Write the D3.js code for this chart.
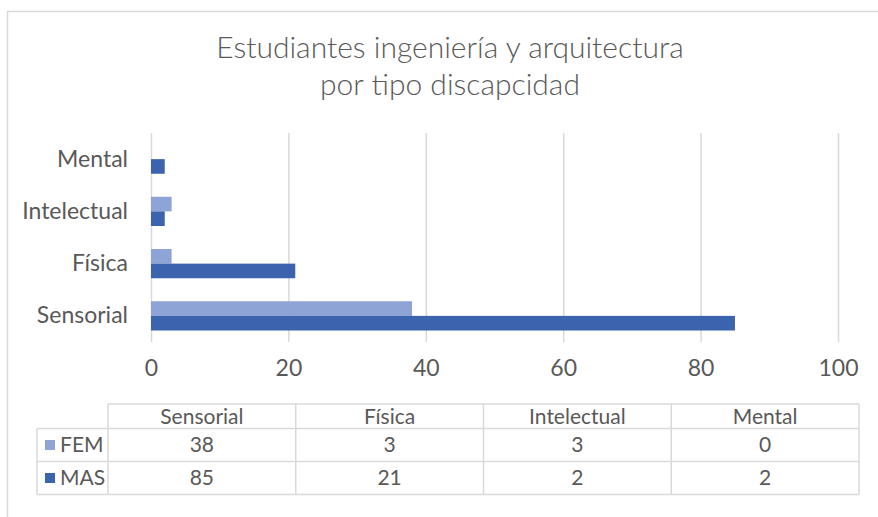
<!DOCTYPE html>
<html>
<head>
<meta charset="utf-8">
<script src="https://cdn.jsdelivr.net/npm/d3@7"></script>
<style>
  html, body { margin: 0; padding: 0; background: #fff; }
  svg text { font-family: Lato, "Open Sans", sans-serif; fill: #595959; }
</style>
</head>
<body>
<div id="chart"></div>
<script>
// data
const categories = ["Sensorial", "Física", "Intelectual", "Mental"];
const seriesNames = ["FEM", "MAS"];
const femValues = [38, 3, 3, 0];
const masValues = [85, 21, 2, 2];
const xTicks = [0, 20, 40, 60, 80, 100];
const titleLines = ["Estudiantes ingeniería y arquitectura", "por tipo discapcidad"];

const colors = { FEM: "#8fa4d6", MAS: "#3c63ad" };
const gridColor = "#d9d9d9";

const width = 878, height = 517;
const plot = { left: 151, right: 838, top: 133, bottom: 342 };

const svg = d3.select("#chart").append("svg")
    .attr("width", width)
    .attr("height", height);

// chart frame (runs off the right and bottom of the picture)
svg.append("rect")
    .attr("x", 7.5).attr("y", 11.5)
    .attr("width", 900).attr("height", 540)
    .style("fill", "none")
    .style("stroke", gridColor)
    .style("stroke-width", 1.5);

// title
svg.append("g").selectAll("text")
    .data(titleLines)
    .enter().append("text")
    .attr("x", 450)
    .attr("y", (d, i) => 58 + i * 37)
    .attr("text-anchor", "middle")
    .style("font-size", "30px")
    .style("font-weight", 300)
    .text(d => d);

// scales
const x = d3.scaleLinear().domain([0, 100]).range([plot.left, plot.right]);
const y0 = d3.scaleBand()
    .domain(categories.slice().reverse())
    .range([plot.top, plot.bottom])
    .paddingInner(0.44)
    .paddingOuter(0.22);
const y1 = d3.scaleBand().domain(seriesNames).range([0, y0.bandwidth()]);

// gridlines + tick labels
const xAxis = d3.axisBottom(x)
    .tickValues(xTicks)
    .tickSize(-(plot.bottom - plot.top))
    .tickPadding(18)
    .tickFormat(d3.format("d"));

const gx = svg.append("g")
    .attr("transform", `translate(0,${plot.bottom})`)
    .call(xAxis);
gx.select(".domain").remove();
gx.selectAll(".tick line")
    .style("stroke", gridColor)
    .style("stroke-width", 1.5);
gx.selectAll(".tick text")
    .style("font-size", "23px")
    .style("fill", "#595959");

// category labels
const yAxis = d3.axisLeft(y0).tickSize(0).tickPadding(0);
const gy = svg.append("g")
    .attr("transform", "translate(128,0)")
    .call(yAxis);
gy.select(".domain").remove();
gy.selectAll(".tick text")
    .style("font-size", "23px")
    .style("fill", "#595959");

// bars
const rows = categories.map((c, i) => ({ cat: c, FEM: femValues[i], MAS: masValues[i] }));

const groups = svg.append("g").selectAll("g")
    .data(rows)
    .enter().append("g")
    .attr("transform", d => `translate(0,${y0(d.cat)})`);

groups.selectAll("rect")
    .data(d => seriesNames.map(s => ({ key: s, value: d[s] })))
    .enter().append("rect")
    .attr("x", x(0))
    .attr("y", d => y1(d.key))
    .attr("width", d => x(d.value) - x(0))
    .attr("height", y1.bandwidth())
    .style("fill", d => colors[d.key]);

// data table
const table = { legendLeft: 37, left: 108, right: 859, headTop: 404, rowTops: [428.5, 461.5], bottom: 494.5 };
const col = d3.scaleBand().domain(categories).range([table.left, table.right]);
const tg = svg.append("g");

const hLines = [
    { y: table.headTop, x1: table.left },
    { y: table.rowTops[0], x1: table.legendLeft },
    { y: table.rowTops[1], x1: table.legendLeft },
    { y: table.bottom, x1: table.legendLeft }
];
tg.selectAll(".hline")
    .data(hLines)
    .enter().append("line")
    .attr("x1", d => d.x1).attr("x2", table.right)
    .attr("y1", d => d.y).attr("y2", d => d.y)
    .style("stroke", gridColor).style("stroke-width", 1.5);

const vLines = [{ x: table.legendLeft, y1: table.rowTops[0] }]
    .concat(categories.map(c => ({ x: col(c), y1: table.headTop })))
    .concat([{ x: table.right, y1: table.headTop }]);
tg.selectAll(".vline")
    .data(vLines)
    .enter().append("line")
    .attr("x1", d => d.x).attr("x2", d => d.x)
    .attr("y1", d => d.y1).attr("y2", table.bottom)
    .style("stroke", gridColor).style("stroke-width", 1.5);

// header
tg.selectAll(".head")
    .data(categories)
    .enter().append("text")
    .attr("x", d => col(d) + col.bandwidth() / 2)
    .attr("y", (table.headTop + table.rowTops[0]) / 2)
    .attr("dy", "0.35em")
    .attr("text-anchor", "middle")
    .style("font-size", "21px")
    .text(d => d);

// value rows
const tableRows = [
    { name: "FEM", values: femValues },
    { name: "MAS", values: masValues }
];
const rowBottoms = [table.rowTops[1], table.bottom];

tableRows.forEach((r, ri) => {
    const cy = (table.rowTops[ri] + rowBottoms[ri]) / 2;
    tg.append("rect")
        .attr("x", 45).attr("y", cy - 5)
        .attr("width", 10).attr("height", 10)
        .style("fill", colors[r.name]);
    tg.append("text")
        .attr("x", 60).attr("y", cy)
        .attr("dy", "0.35em")
        .style("font-size", "21px")
        .text(r.name);
    tg.selectAll(".v" + ri)
        .data(r.values)
        .enter().append("text")
        .attr("x", (d, i) => col(categories[i]) + col.bandwidth() / 2)
        .attr("y", cy)
        .attr("dy", "0.35em")
        .attr("text-anchor", "middle")
        .style("font-size", "21px")
        .text(d => d);
});
</script>
</body>
</html>
